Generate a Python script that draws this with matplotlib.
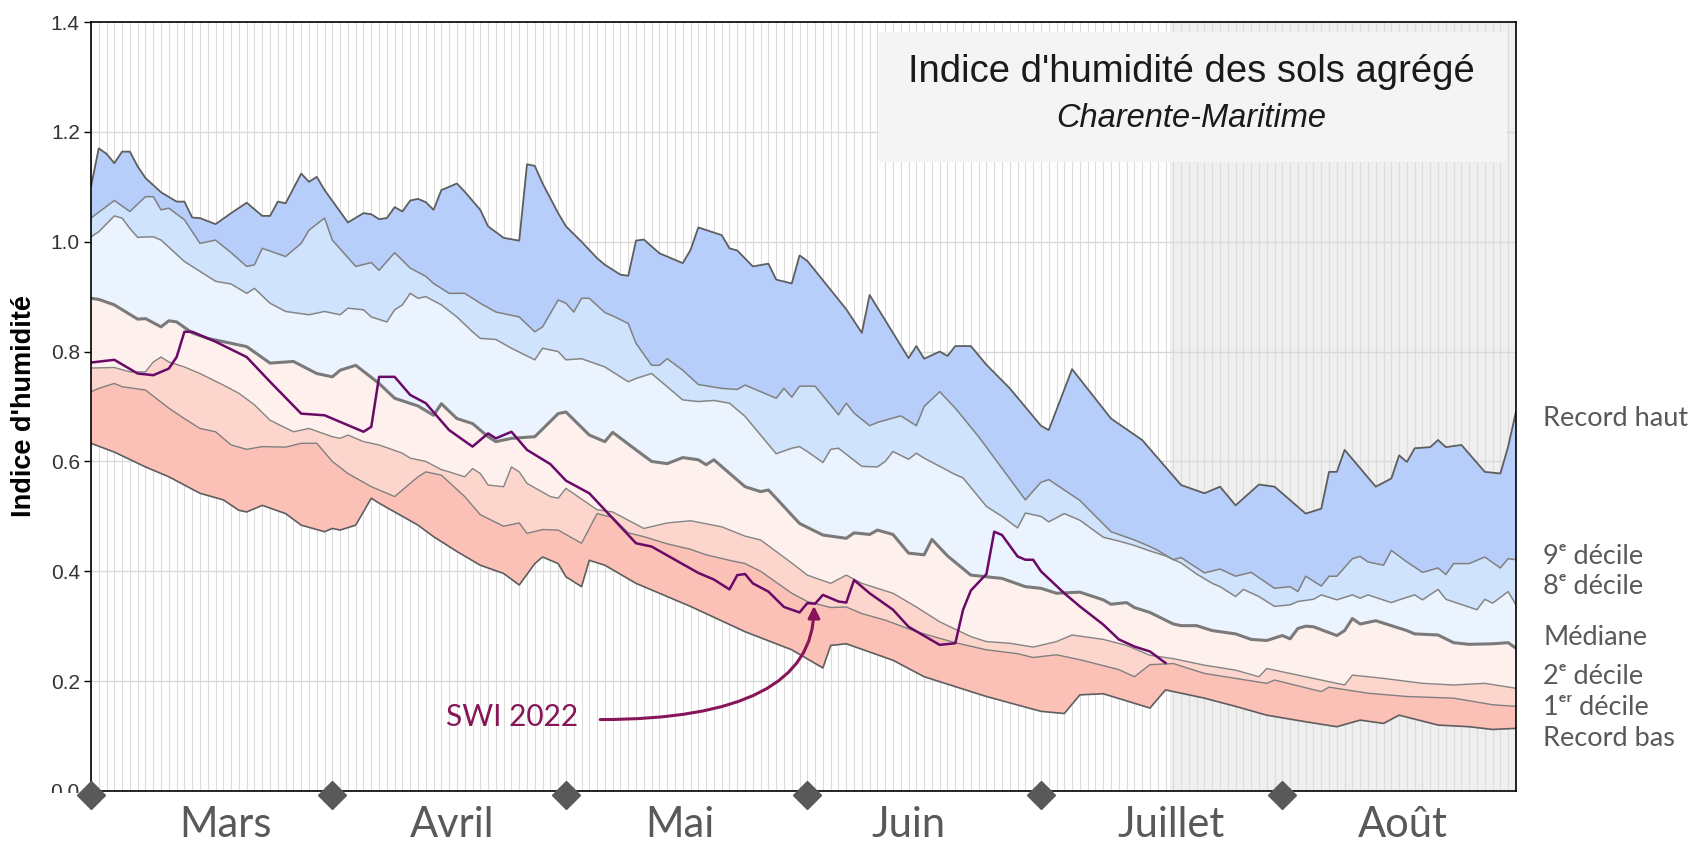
import matplotlib
matplotlib.use("Agg")
import matplotlib.pyplot as plt
from matplotlib import font_manager, transforms
from matplotlib.patches import Rectangle

# jour 0 = 1er mars, jour 183 = 31 août
RECORD_HAUT = [(0, 1.10), (1, 1.17), (2, 1.16), (3, 1.143), (4, 1.164), (5, 1.164), (6, 1.137), (7, 1.116),
               (9, 1.09), (11, 1.073), (12, 1.073), (13, 1.044), (14, 1.043), (16, 1.032), (18, 1.052),
               (20, 1.071), (22, 1.047), (23, 1.047), (24, 1.073), (25, 1.07), (27, 1.124), (28, 1.109),
               (29, 1.118), (30, 1.094), (33, 1.035), (35, 1.052), (36, 1.05), (37, 1.041), (38, 1.043),
               (39, 1.063), (40, 1.055), (41, 1.075), (42, 1.078), (43, 1.072), (44, 1.058), (45, 1.094),
               (47, 1.106), (48, 1.091), (50, 1.058), (51, 1.028), (53, 1.007), (55, 1.002), (56, 1.141),
               (57, 1.138), (58, 1.106), (60, 1.052), (61, 1.028), (63, 1.0), (65, 0.97), (66, 0.958),
               (68, 0.94), (69, 0.938), (70, 1.002), (71, 1.004), (73, 0.979), (76, 0.961), (77, 0.985),
               (78, 1.026), (81, 1.012), (82, 0.988), (83, 0.984), (85, 0.955), (87, 0.96), (88, 0.931),
               (90, 0.924), (91, 0.975), (92, 0.965), (97, 0.877), (99, 0.834), (100, 0.903), (101, 0.88),
               (105, 0.788), (106, 0.81), (107, 0.787), (109, 0.80), (110, 0.792), (111, 0.81), (113, 0.81),
               (115, 0.776), (118, 0.733), (122, 0.665), (123, 0.657), (126, 0.768), (131, 0.678),
               (135, 0.639), (140, 0.557), (143, 0.542), (145, 0.554), (147, 0.52), (150, 0.558),
               (152, 0.554), (156, 0.505), (158, 0.514), (159, 0.581), (160, 0.581), (161, 0.621),
               (165, 0.554), (167, 0.569), (168, 0.611), (169, 0.599), (170, 0.624), (172, 0.626),
               (173, 0.639), (174, 0.626), (176, 0.63), (179, 0.581), (181, 0.578), (182, 0.627), (183, 0.69)]

DECILE_9 = [(0, 1.043), (3, 1.075), (5, 1.055), (7, 1.082), (8, 1.082), (9, 1.058), (10, 1.061), (12, 1.04),
            (14, 0.997), (16, 1.003), (18, 0.98), (20, 0.955), (21, 0.958), (22, 0.988), (25, 0.973),
            (27, 0.997), (28, 1.021), (30, 1.043), (31, 1.003), (34, 0.955), (36, 0.962), (37, 0.948),
            (39, 0.98), (41, 0.952), (43, 0.937), (44, 0.924), (46, 0.906), (48, 0.906), (50, 0.888),
            (52, 0.872), (55, 0.863), (57, 0.836), (58, 0.845), (60, 0.894), (61, 0.888), (62, 0.872),
            (63, 0.897), (64, 0.897), (66, 0.871), (67, 0.865), (69, 0.851), (70, 0.815), (72, 0.775),
            (73, 0.775), (74, 0.787), (76, 0.766), (78, 0.74), (81, 0.733), (83, 0.731), (84, 0.739),
            (88, 0.715), (89, 0.733), (90, 0.717), (91, 0.737), (93, 0.737), (96, 0.685), (97, 0.706),
            (98, 0.688), (100, 0.665), (101, 0.671), (104, 0.683), (106, 0.665), (107, 0.70), (109, 0.727),
            (111, 0.697), (114, 0.645), (120, 0.53), (122, 0.562), (123, 0.567), (127, 0.529), (131, 0.472),
            (134, 0.457), (136, 0.445), (137, 0.438), (139, 0.421), (140, 0.425), (143, 0.397),
            (145, 0.404), (147, 0.391), (149, 0.398), (152, 0.369), (154, 0.372), (155, 0.363),
            (156, 0.391), (158, 0.373), (159, 0.391), (160, 0.391), (162, 0.423), (163, 0.427),
            (164, 0.417), (166, 0.411), (167, 0.438), (169, 0.417), (171, 0.398), (173, 0.406),
            (174, 0.394), (175, 0.414), (177, 0.414), (179, 0.426), (181, 0.406), (182, 0.423), (183, 0.421)]

DECILE_8 = [(0, 1.009), (1, 1.018), (3, 1.047), (4, 1.043), (5, 1.024), (6, 1.008), (8, 1.009), (9, 1.003),
            (12, 0.964), (14, 0.946), (16, 0.928), (18, 0.923), (20, 0.906), (21, 0.915), (23, 0.888),
            (25, 0.873), (28, 0.867), (30, 0.873), (32, 0.867), (33, 0.879), (35, 0.876), (36, 0.863),
            (38, 0.854), (39, 0.876), (40, 0.885), (41, 0.906), (42, 0.897), (43, 0.90), (45, 0.885),
            (47, 0.863), (49, 0.836), (50, 0.824), (52, 0.822), (54, 0.806), (57, 0.785), (58, 0.806),
            (60, 0.80), (61, 0.785), (63, 0.787), (66, 0.772), (69, 0.745), (70, 0.751), (72, 0.76),
            (76, 0.712), (78, 0.709), (80, 0.711), (82, 0.706), (84, 0.682), (88, 0.614), (90, 0.624),
            (91, 0.627), (92, 0.618), (94, 0.598), (95, 0.622), (96, 0.624), (99, 0.591), (101, 0.59),
            (102, 0.60), (103, 0.618), (105, 0.604), (106, 0.615), (107, 0.606), (111, 0.576), (112, 0.57),
            (115, 0.518), (117, 0.50), (119, 0.479), (120, 0.506), (122, 0.50), (123, 0.49), (125, 0.505),
            (127, 0.493), (130, 0.462), (132, 0.455), (134, 0.447), (136, 0.437), (138, 0.428),
            (140, 0.415), (142, 0.395), (144, 0.378), (145, 0.372), (147, 0.354), (148, 0.367),
            (150, 0.354), (152, 0.336), (154, 0.339), (155, 0.345), (157, 0.349), (158, 0.357),
            (160, 0.348), (162, 0.357), (163, 0.351), (164, 0.357), (167, 0.343), (168, 0.348),
            (170, 0.357), (171, 0.348), (173, 0.367), (174, 0.349), (178, 0.33), (179, 0.349),
            (180, 0.342), (182, 0.363), (183, 0.339)]

MEDIANE = [(0, 0.897), (1, 0.895), (3, 0.885), (6, 0.859), (7, 0.86), (9, 0.845), (10, 0.856), (11, 0.854),
           (13, 0.834), (15, 0.824), (18, 0.815), (20, 0.809), (23, 0.779), (26, 0.782), (29, 0.76),
           (31, 0.754), (32, 0.766), (34, 0.775), (37, 0.742), (39, 0.715), (42, 0.701), (44, 0.684),
           (45, 0.705), (47, 0.678), (49, 0.669), (51, 0.645), (52, 0.636), (54, 0.642), (57, 0.645),
           (60, 0.687), (61, 0.69), (64, 0.648), (66, 0.636), (67, 0.653), (70, 0.621), (72, 0.60),
           (74, 0.596), (76, 0.607), (78, 0.603), (79, 0.594), (80, 0.603), (84, 0.554), (86, 0.545),
           (87, 0.548), (88, 0.533), (91, 0.487), (94, 0.466), (97, 0.46), (98, 0.47), (100, 0.467),
           (101, 0.475), (103, 0.467), (105, 0.433), (107, 0.43), (108, 0.458), (110, 0.428), (113, 0.393),
           (115, 0.39), (117, 0.387), (120, 0.372), (122, 0.369), (124, 0.36), (127, 0.362), (130, 0.348),
           (131, 0.34), (133, 0.343), (134, 0.334), (136, 0.325), (139, 0.304), (140, 0.301), (142, 0.301),
           (144, 0.292), (147, 0.286), (149, 0.276), (151, 0.274), (153, 0.283), (154, 0.277), (155, 0.296),
           (156, 0.30), (157, 0.299), (160, 0.283), (161, 0.292), (162, 0.314), (163, 0.304), (165, 0.31),
           (167, 0.301), (169, 0.292), (170, 0.286), (173, 0.284), (175, 0.27), (177, 0.267), (180, 0.268),
           (182, 0.27), (183, 0.26)]

DECILE_2 = [(0, 0.77), (3, 0.771), (5, 0.763), (7, 0.763), (8, 0.781), (9, 0.79), (10, 0.781), (12, 0.772),
            (14, 0.76), (17, 0.739), (19, 0.724), (21, 0.703), (23, 0.675), (26, 0.654), (28, 0.66),
            (31, 0.645), (32, 0.642), (33, 0.648), (35, 0.636), (37, 0.63), (40, 0.615), (41, 0.606),
            (43, 0.60), (45, 0.585), (46, 0.581), (48, 0.572), (49, 0.587), (50, 0.578), (51, 0.557),
            (53, 0.554), (54, 0.59), (55, 0.581), (56, 0.56), (59, 0.536), (60, 0.533), (61, 0.551),
            (65, 0.512), (67, 0.508), (71, 0.478), (74, 0.488), (77, 0.492), (81, 0.481), (84, 0.464),
            (86, 0.457), (90, 0.415), (92, 0.393), (95, 0.378), (97, 0.393), (99, 0.378), (103, 0.36),
            (106, 0.335), (109, 0.308), (113, 0.281), (115, 0.272), (118, 0.269), (121, 0.262),
            (124, 0.272), (126, 0.284), (130, 0.276), (133, 0.265), (136, 0.247), (139, 0.241),
            (143, 0.229), (147, 0.22), (150, 0.208), (151, 0.223), (154, 0.214), (158, 0.202),
            (161, 0.193), (162, 0.211), (166, 0.205), (171, 0.196), (175, 0.193), (179, 0.196), (183, 0.187)]

DECILE_1 = [(0, 0.727), (1, 0.733), (3, 0.742), (4, 0.736), (7, 0.73), (10, 0.697), (12, 0.678), (14, 0.66),
            (16, 0.654), (18, 0.63), (20, 0.622), (22, 0.627), (25, 0.626), (27, 0.633), (29, 0.633),
            (31, 0.60), (33, 0.578), (36, 0.554), (39, 0.536), (40, 0.548), (42, 0.572), (43, 0.581),
            (45, 0.575), (48, 0.536), (50, 0.503), (53, 0.482), (55, 0.488), (56, 0.469), (58, 0.476),
            (60, 0.475), (63, 0.451), (65, 0.505), (67, 0.498), (69, 0.47), (71, 0.463), (74, 0.45),
            (77, 0.44), (79, 0.43), (82, 0.42), (84, 0.414), (86, 0.40), (90, 0.36), (92, 0.345),
            (95, 0.334), (97, 0.335), (99, 0.323), (102, 0.311), (106, 0.29), (111, 0.27), (115, 0.257),
            (119, 0.25), (121, 0.243), (124, 0.248), (127, 0.239), (132, 0.221), (134, 0.208), (136, 0.23),
            (139, 0.232), (143, 0.214), (147, 0.205), (151, 0.196), (152, 0.202), (158, 0.181),
            (159, 0.189), (164, 0.178), (169, 0.172), (175, 0.169), (180, 0.157), (183, 0.154)]

RECORD_BAS = [(0, 0.633), (3, 0.617), (7, 0.59), (10, 0.572), (14, 0.542), (17, 0.53), (19, 0.511), (20, 0.508),
              (22, 0.52), (25, 0.505), (27, 0.484), (30, 0.472), (31, 0.478), (32, 0.475), (34, 0.484),
              (36, 0.533), (37, 0.524), (39, 0.508), (42, 0.484), (44, 0.463), (47, 0.436), (50, 0.411),
              (53, 0.396), (55, 0.375), (57, 0.414), (58, 0.426), (60, 0.414), (61, 0.39), (63, 0.372),
              (64, 0.42), (66, 0.411), (70, 0.378), (77, 0.336), (84, 0.29), (90, 0.257), (94, 0.224),
              (95, 0.265), (97, 0.268), (103, 0.238), (107, 0.208), (111, 0.19), (115, 0.172), (122, 0.145),
              (125, 0.141), (127, 0.175), (130, 0.177), (136, 0.151), (138, 0.184), (143, 0.169),
              (147, 0.154), (151, 0.138), (156, 0.126), (160, 0.117), (163, 0.129), (166, 0.123),
              (168, 0.138), (173, 0.12), (177, 0.117), (180, 0.112), (183, 0.114)]

SWI_2022 = [(0, 0.78), (3, 0.785), (6, 0.76), (8, 0.757), (10, 0.769), (11, 0.79), (12, 0.836), (13, 0.836),
            (16, 0.818), (20, 0.79), (23, 0.745), (27, 0.687), (30, 0.684), (35, 0.654), (36, 0.663),
            (37, 0.754), (39, 0.754), (41, 0.721), (43, 0.706), (46, 0.657), (49, 0.627), (51, 0.651),
            (52, 0.642), (54, 0.654), (56, 0.621), (59, 0.595), (61, 0.565), (64, 0.542), (70, 0.451),
            (72, 0.445), (75, 0.421), (78, 0.397), (80, 0.385), (82, 0.367), (83, 0.393), (84, 0.395),
            (85, 0.378), (87, 0.363), (89, 0.335), (91, 0.325), (92, 0.342), (93, 0.341), (94, 0.357),
            (96, 0.345), (97, 0.343), (98, 0.384), (100, 0.36), (103, 0.33), (105, 0.299), (109, 0.266),
            (111, 0.269), (112, 0.33), (113, 0.365), (115, 0.395), (116, 0.472), (117, 0.466),
            (119, 0.427), (120, 0.421), (121, 0.421), (122, 0.40), (125, 0.36), (127, 0.336), (130, 0.303),
            (132, 0.276), (134, 0.263), (136, 0.254), (138, 0.233)]

MOIS = ["Mars", "Avril", "Mai", "Juin", "Juillet", "Août"]
DEBUT_MOIS = [0, 31, 61, 92, 122, 153]
MOIS_X = [17.3, 46.4, 75.6, 105.0, 138.7, 168.5]   # centres des noms de mois sur l'original
ETIQUETTES = ["Record haut", "9ᵉ décile", "8ᵉ décile", "Médiane", "2ᵉ décile", "1ᵉʳ décile", "Record bas"]
ETIQUETTES_Y = [0.678, 0.427, 0.372, 0.279, 0.208, 0.152, 0.096]
Y_TICKS = [0.0, 0.2, 0.4, 0.6, 0.8, 1.0, 1.2, 1.4]
DEBUT_ZONE_GRISE = 138.6
N_JOURS = 183

BANDES = [
    (RECORD_HAUT, DECILE_9, "#b7cefa"),
    (DECILE_9, DECILE_8, "#cfe3fd"),
    (DECILE_8, MEDIANE, "#ebf3fe"),
    (MEDIANE, DECILE_2, "#fef0ec"),
    (DECILE_2, DECILE_1, "#fcd6cd"),
    (DECILE_1, RECORD_BAS, "#fbc0b6"),
]

names = {f.name for f in font_manager.fontManager.ttflist}
NARROW = "Liberation Sans Narrow" in names
AXIS_FONT = ["Liberation Sans Narrow", "Liberation Sans", "DejaVu Sans"] if NARROW else ["Liberation Sans", "DejaVu Sans"]
CAL_FONT = ["Lato", "DejaVu Sans"]
ARIAL = ["Liberation Sans", "DejaVu Sans"]


def xy(series):
    xs, ys = zip(*series)
    return list(xs), list(ys)


fig = plt.figure(figsize=(16.97, 8.43), dpi=100)
ax = fig.add_axes([0.0536, 0.0617, 0.8397, 0.9122])
ax.set_xlim(0, N_JOURS)
ax.set_ylim(0, 1.4)

# fond : zone grisée + grille journalière
ax.axvspan(DEBUT_ZONE_GRISE, N_JOURS, color="#efefef", lw=0, zorder=0)
for d in range(N_JOURS + 1):
    ax.axvline(d, color="#dcdcdc", lw=0.8, zorder=0.5)
for y in Y_TICKS[1:-1]:
    ax.axhline(y, color="#d9d9d9", lw=1.0, zorder=0.6)

# bandes de déciles
for haut, bas, col in BANDES:
    xh, yh = xy(haut)
    xb, yb = xy(bas)
    ax.fill(xh + xb[::-1], yh + yb[::-1], color=col, lw=0, zorder=1)

for serie, col, lw in [(RECORD_HAUT, "#5e5e5e", 1.3), (DECILE_9, "#808080", 1.1), (DECILE_8, "#858585", 1.1),
                       (DECILE_2, "#858585", 1.0), (DECILE_1, "#808080", 1.0), (RECORD_BAS, "#5e5e5e", 1.2)]:
    x, y = xy(serie)
    ax.plot(x, y, color=col, lw=lw, zorder=2)
x, y = xy(MEDIANE)
ax.plot(x, y, color="#7a7a7a", lw=2.2, zorder=2.2)

x, y = xy(SWI_2022)
ax.plot(x, y, color="#6a0a68", lw=1.8, zorder=3)

# encadré du titre
ax.add_patch(Rectangle((0.553, 0.818), 0.4407, 0.169, transform=ax.transAxes,
                       facecolor="#f4f4f4", edgecolor="none", zorder=4))
ax.text(0.772, 0.922, "Indice d'humidité des sols agrégé", transform=ax.transAxes,
        ha="center", va="baseline", fontsize=27.5, family=ARIAL, color="#1a1a1a", zorder=5)
ax.text(0.772, 0.8635, "Charente-Maritime", transform=ax.transAxes, ha="center", va="baseline",
        fontsize=23.5, style="italic", family=ARIAL, color="#1a1a1a", zorder=5)

# annotation SWI 2022
ax.text(54.1, 0.1356, "SWI 2022", ha="center", va="center", fontsize=21.5, family=CAL_FONT,
        color="#861657", zorder=5)
ax.annotate("", xy=(92.85, 0.337), xytext=(65.4, 0.130),
            arrowprops=dict(arrowstyle="-|>,head_length=0.7,head_width=0.35", color="#861657", lw=2.2,
                            connectionstyle="angle3,angleA=0,angleB=90", shrinkA=0, shrinkB=0),
            zorder=5)

# axes
for sp in ax.spines.values():
    sp.set_color("black")
    sp.set_linewidth(1.2)
    sp.set_zorder(6)
ax.set_xticks([])
ax.set_yticks(Y_TICKS)
ax.set_yticklabels([f"{v:.1f}" for v in Y_TICKS], family=AXIS_FONT, fontsize=15, color="#333333")
ax.tick_params(axis="y", length=5, width=1, pad=3)
ax.text(-0.047, 0.5, "Indice d'humidité", transform=ax.transAxes, rotation=90, ha="center", va="center",
        fontsize=22 if NARROW else 19.5, fontweight="bold", family=AXIS_FONT, color="black")

# bandeau blanc sous l'axe (masque le bas de « 0.0 » comme sur l'original)
ax.add_patch(Rectangle((0, 0), 0.0536, 0.0595, transform=fig.transFigure, facecolor="white",
                       edgecolor="none", clip_on=False, zorder=7))

# repères de mois
blend_x = transforms.blended_transform_factory(ax.transData, ax.transAxes)
diam = transforms.offset_copy(ax.transData, fig=fig, y=-4, units="dots")
ax.plot(DEBUT_MOIS, [0] * len(DEBUT_MOIS), "D", ms=14, color="#595959", clip_on=False, zorder=10,
        transform=diam)
for m, xm in zip(MOIS, MOIS_X):
    ax.text(xm, -0.044, m, transform=blend_x, ha="center", va="center", fontsize=30,
            family=CAL_FONT, color="#595959")

# étiquettes à droite
blend_y = transforms.blended_transform_factory(ax.transAxes, ax.transData)
for lab, yv in zip(ETIQUETTES, ETIQUETTES_Y):
    ax.text(1.019, yv, lab, transform=blend_y, ha="left", va="center", fontsize=19.5,
            family=CAL_FONT, color="#595959")

fig.savefig("out.png", dpi=100)
